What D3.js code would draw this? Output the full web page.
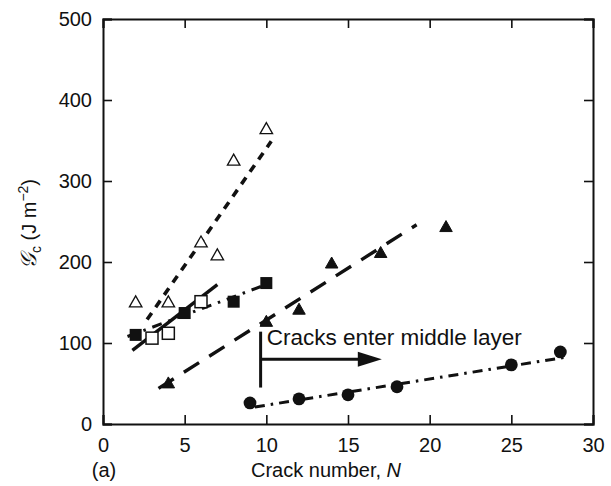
<!DOCTYPE html>
<html>
<head>
<meta charset="utf-8">
<script src="https://cdn.jsdelivr.net/npm/d3@7"></script>
<style>
  html, body { margin: 0; padding: 0; background: #fff; }
  svg { display: block; }
  text { font-family: "Liberation Sans", Arial, Helvetica, sans-serif; fill: #111; }
</style>
</head>
<body>
<svg id="chart" width="611" height="486"></svg>
<script>
// Critical strain energy release rate vs crack number, five laminate series
const xTicks = [0, 5, 10, 15, 20, 25, 30];
const yTicks = [0, 100, 200, 300, 400, 500];

// open triangles
const openTriN = [2, 4, 6, 7, 8, 10];
const openTriG = [150, 150, 224, 208, 325, 364];
// filled squares
const fillSqN = [2, 5, 8, 10];
const fillSqG = [110, 137, 151, 174];
// open squares
const openSqN = [3, 4, 6];
const openSqG = [106, 112, 151];
// filled triangles
const fillTriN = [4, 10, 12, 14, 17, 21];
const fillTriG = [50, 126, 141, 198, 211, 243];
// filled circles
const circN = [9, 12, 15, 18, 25, 28];
const circG = [26, 31, 36, 46, 73, 89];

// fitted trend lines: [N start, N end], [G start, G end]
const fitOpenTriN = [2.7, 10.3],  fitOpenTriG = [129, 349];
const fitOpenSqN = [1.8, 7.0],    fitOpenSqG = [91, 172];
const fitFillSqN = [1.5, 10.5],   fitFillSqG = [108, 176];
const fitFillTriN = [3.4, 19.2],  fitFillTriG = [44, 246];
const fitCircN = [9.3, 28.5],     fitCircG = [21, 83];

// annotation: onset of cracking in the middle layer
const markerN = 9.65;
const markerG = [45, 114];
const arrowG = 80;
const arrowEndN = 17.07;
const noteText = "Cracks enter middle layer";

const svg = d3.select("#chart");
const margin = { left: 103, right: 18, top: 19, bottom: 62 };
const W = 611, H = 486;
const x = d3.scaleLinear().domain([0, 30]).range([margin.left, W - margin.right]);
const y = d3.scaleLinear().domain([0, 500]).range([H - margin.bottom, margin.top]);

const ink = "#111";
const tickLen = 9;

// axes, ticks pointing inward on all four sides
const g = svg.append("g");
const axB = d3.axisBottom(x).tickValues(xTicks).tickSize(-tickLen).tickPadding(14);
const axT = d3.axisTop(x).tickValues(xTicks).tickSize(-tickLen).tickFormat("");
const axL = d3.axisLeft(y).tickValues(yTicks).tickSize(-tickLen).tickPadding(11);
const axR = d3.axisRight(y).tickValues(yTicks).tickSize(-tickLen).tickFormat("");

g.append("g").attr("transform", `translate(0,${y(0)})`).call(axB);
g.append("g").attr("transform", `translate(0,${y(500)})`).call(axT);
g.append("g").attr("transform", `translate(${x(0)},0)`).call(axL);
g.append("g").attr("transform", `translate(${x(30)},0)`).call(axR);

g.selectAll(".domain").attr("stroke", ink).attr("stroke-width", 2);
g.selectAll(".tick line").attr("stroke", ink).attr("stroke-width", 1.6);
g.selectAll(".tick text").style("font-size", "20px").attr("fill", ink);

// trend lines
const line = d3.line().x(d => x(d[0])).y(d => y(d[1]));
function fit(ns, gs, dash, width) {
  svg.append("path")
    .attr("d", line([[ns[0], gs[0]], [ns[1], gs[1]]]))
    .attr("fill", "none").attr("stroke", ink)
    .attr("stroke-width", width)
    .attr("stroke-dasharray", dash);
}
fit(fitOpenTriN, fitOpenTriG, "8,7", 3.6);
fit(fitOpenSqN, fitOpenSqG, null, 3.4);
fit(fitFillSqN, fitFillSqG, "10,7,2.5,7", 3);
fit(fitFillTriN, fitFillTriG, "18,12", 3.4);
fit(fitCircN, fitCircG, "10,6,2.5,6", 3);

// markers
function tri(cx, cy) {
  const w = 12.5, h = 11;
  return `M${cx},${cy - h * 0.6}L${cx + w / 2},${cy + h * 0.4}L${cx - w / 2},${cy + h * 0.4}Z`;
}
const pts = (ns, gs) => ns.map((n, i) => [n, gs[i]]);

svg.append("g").selectAll("path").data(pts(openTriN, openTriG)).join("path")
  .attr("d", d => tri(x(d[0]), y(d[1])))
  .attr("fill", "#fff").attr("stroke", ink).attr("stroke-width", 1.3);

svg.append("g").selectAll("path").data(pts(fillTriN, fillTriG)).join("path")
  .attr("d", d => tri(x(d[0]), y(d[1])))
  .attr("fill", ink).attr("stroke", ink).attr("stroke-width", 1);

const sq = 12;
svg.append("g").selectAll("rect").data(pts(openSqN, openSqG)).join("rect")
  .attr("x", d => x(d[0]) - sq / 2).attr("y", d => y(d[1]) - sq / 2)
  .attr("width", sq).attr("height", sq)
  .attr("fill", "#fff").attr("stroke", ink).attr("stroke-width", 1.5);

svg.append("g").selectAll("rect").data(pts(fillSqN, fillSqG)).join("rect")
  .attr("x", d => x(d[0]) - sq / 2).attr("y", d => y(d[1]) - sq / 2)
  .attr("width", sq).attr("height", sq)
  .attr("fill", ink);

svg.append("g").selectAll("circle").data(pts(circN, circG)).join("circle")
  .attr("cx", d => x(d[0])).attr("cy", d => y(d[1])).attr("r", 6.4)
  .attr("fill", ink);

// annotation
svg.append("line")
  .attr("x1", x(markerN)).attr("x2", x(markerN))
  .attr("y1", y(markerG[0])).attr("y2", y(markerG[1]))
  .attr("stroke", ink).attr("stroke-width", 3);
const ah = 24, aw = 7.5;
svg.append("line")
  .attr("x1", x(markerN)).attr("x2", x(arrowEndN) - ah + 2)
  .attr("y1", y(arrowG)).attr("y2", y(arrowG))
  .attr("stroke", ink).attr("stroke-width", 3);
svg.append("path")
  .attr("d", `M${x(arrowEndN)},${y(arrowG)}L${x(arrowEndN) - ah},${y(arrowG) - aw}L${x(arrowEndN) - ah},${y(arrowG) + aw}Z`)
  .attr("fill", ink);
svg.append("text")
  .attr("x", x(10.02)).attr("y", y(97.5))
  .style("font-size", "22.5px")
  .text(noteText);

// axis titles
const xt = svg.append("text")
  .attr("x", 326).attr("y", 477)
  .attr("text-anchor", "middle")
  .style("font-size", "20px");
xt.append("tspan").text("Crack number, ");
xt.append("tspan").style("font-style", "italic").text("N");

svg.append("text").attr("x", 104).attr("y", 477)
  .attr("text-anchor", "middle").style("font-size", "20px").text("(a)");

const yt = svg.append("text")
  .attr("transform", `translate(36,${224}) rotate(-90)`)
  .attr("text-anchor", "middle")
  .style("font-size", "20px");
yt.append("tspan").style("font-family", "'DejaVu Serif', 'Liberation Serif', serif").style("font-style", "italic").style("font-size", "22px").text("𝒢");
yt.append("tspan").attr("dy", 5).style("font-size", "14px").text("c");
yt.append("tspan").attr("dy", -5).text(" (J m");
yt.append("tspan").attr("dy", -8).style("font-size", "14px").text("−2");
yt.append("tspan").attr("dy", 8).text(")");
</script>
</body>
</html>
